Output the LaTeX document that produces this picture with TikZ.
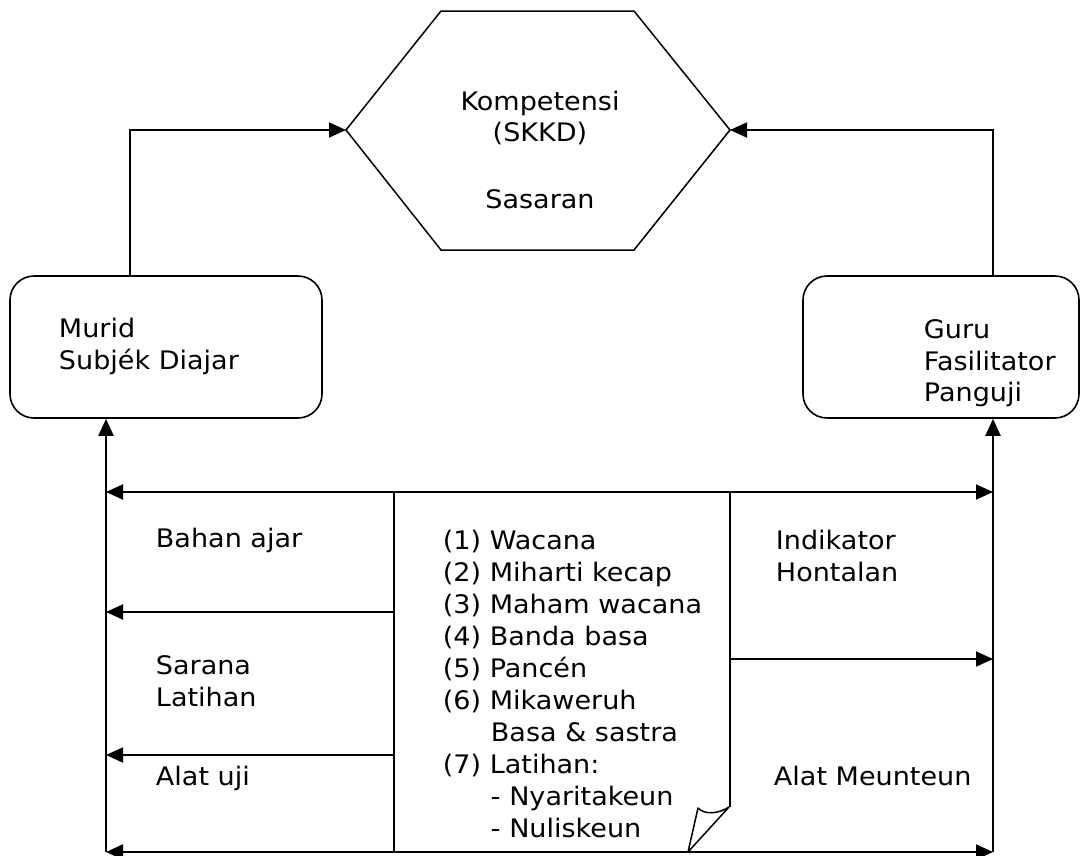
\documentclass[tikz,border=0pt]{standalone}
\usepackage{fontspec}
\setmainfont{DejaVu Sans}[FakeStretch=1.06]
\usetikzlibrary{arrows.meta}
\begin{document}
\begin{tikzpicture}[x=1pt,y=-1pt,
  line width=1.9pt,
  tip/.tip={Triangle[length=17pt,width=15pt]},
  arr/.style={-tip},
  dblarr/.style={tip-tip},
  thick line/.style={line width=2.2pt},
  box/.style={draw,rounded corners=24pt,line width=1.6pt,inner sep=0pt},
  lbl/.style={anchor=base west,inner sep=0pt,font=\fontsize{25.5}{32}\selectfont},
  ctr/.style={anchor=base,inner sep=0pt,font=\fontsize{25.5}{32}\selectfont}]
\useasboundingbox (0,0) rectangle (1080,855);

% target hexagon
\coordinate (hexL) at (346,130);
\coordinate (hexR) at (730,130);
\draw[line width=1.5pt] (441,11) -- (634,11) -- (hexR) -- (634,250) -- (441,250) -- (hexL) -- cycle;
\node[ctr] (komp) at (540,110) {Kompetensi};
\node[ctr] (skkd) at (540,141) {(SKKD)};
\node[ctr] (sasaran) at (540,208) {Sasaran};

% learner and teacher boxes
\node[box,minimum width=312pt,minimum height=142pt] (murid) at (166,347) {};
\node[box,minimum width=276pt,minimum height=142pt] (guru) at (941,347) {};
\node[lbl] (muridtxt) at (58,337) {Murid};
\node[lbl] (subjek) at (58,369) {Subjék Diajar};
\node[lbl] (gurutxt) at (923,338) {Guru};
\node[lbl] (fasil) at (923,370) {Fasilitator};
\node[lbl] (panguji) at (923,401) {Panguji};

% links up to the target
\draw[arr] ([xshift=-36pt]murid.north) |- (hexL);
\draw[arr] ([xshift=52pt]guru.north) |- (hexR);

% frame of the lower part
\coordinate (tl) at (106,492);
\coordinate (tr) at (993,492);
\coordinate (bl) at (106,852);
\coordinate (br) at (993,852);
\draw[thick line,-tip] (bl) -- (murid.south -| bl);
\draw[thick line,-tip] (br) -- (guru.south -| br);
\draw[dblarr] (tl) -- (tr);
\draw[thick line,tip-tip] (bl) -- (br);

% material sheet with curled corner
\coordinate (docBL) at (394,852);
\coordinate (docTL) at (394,492);
\coordinate (docTR) at (730,492);
\coordinate (curlA) at (729,807);
\coordinate (curlB) at (698,808);
\coordinate (curlC) at (688,852);
\draw (docBL) -- (docTL) -- (docTR) -- (730,807);
\draw[line width=1.5pt,line join=round] (curlA) .. controls (718,814) and (705,815) .. (curlB) -- (curlC) -- cycle;

% flows out of the sheet
\coordinate (outL1) at (394,612);
\coordinate (outL2) at (394,755);
\coordinate (outR) at (730,659);
\draw[arr] (outL1) -- (outL1 -| tl);
\draw[arr] (outL2) -- (outL2 -| tl);
\draw[arr] (outR) -- (outR -| tr);

% side labels
\node[lbl] (bahan) at (155,547) {Bahan ajar};
\node[lbl] (sarana) at (155,674) {Sarana};
\node[lbl] (latihan) at (155,706) {Latihan};
\node[lbl] (alatuji) at (155,785) {Alat uji};
\node[lbl] (indik) at (775,549) {Indikator};
\node[lbl] (hontal) at (775,581) {Hontalan};
\node[lbl] (meunteun) at (773,785) {Alat Meunteun};

% contents of the sheet
\node[lbl] (l1) at (442,549) {(1) Wacana};
\node[lbl] (l2) at (442,581) {(2) Miharti kecap};
\node[lbl] (l3) at (442,613) {(3) Maham wacana};
\node[lbl] (l4) at (442,645) {(4) Banda basa};
\node[lbl] (l5) at (442,677) {(5) Pancén};
\node[lbl] (l6) at (442,709) {(6) Mikaweruh};
\node[lbl] (l6b) at (490,741) {Basa \& sastra};
\node[lbl] (l7) at (442,773) {(7) Latihan:};
\node[lbl] (l7a) at (490,805) {- Nyaritakeun};
\node[lbl] (l7b) at (490,837) {- Nuliskeun};
\end{tikzpicture}
\end{document}
